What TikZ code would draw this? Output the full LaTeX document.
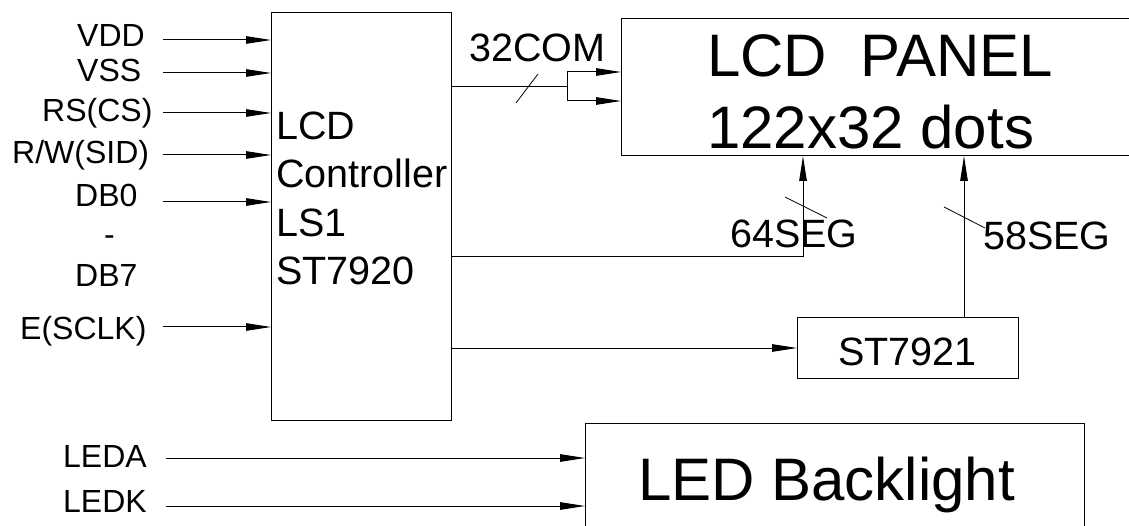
\documentclass[tikz,border=0pt]{standalone}
\usepackage{fontspec}
\setmainfont{Liberation Sans}
\usetikzlibrary{arrows.meta}
\begin{document}
\begin{tikzpicture}[x=1pt,y=-1pt,
  wire/.style={line width=1pt},
  arr/.style={wire,-{Triangle[length=25pt,width=7.5pt]}},
  tick/.style={line width=0.8pt},
  box/.style={draw,line width=1pt,rectangle,inner sep=0pt,outer sep=0pt},
  lbl/.style={inner sep=0pt,anchor=base west,font=\fontsize{32}{38}\selectfont},
  mid/.style={inner sep=0pt,anchor=base west,font=\fontsize{39.5}{47}\selectfont},
  big/.style={inner sep=0pt,anchor=base west,font=\fontsize{60}{72}\selectfont}]
\useasboundingbox (0,0) rectangle (1129,526);

% boxes
\node[box,minimum width=180pt,minimum height=407pt] (ctrl) at (361,216.5) {};
\node[box,minimum width=600pt,minimum height=137pt] (panel) at (921,87.5) {};
\node[box,minimum width=221pt,minimum height=60pt] (st) at (907.5,348) {};
\node[box,minimum width=499pt,minimum height=140pt] (led) at (834.5,493) {};

% box texts
\node[mid] (t1) at (276,140) {LCD};
\node[mid] (t2) at (276,188) {Controller};
\node[mid] (t3) at (276,237) {LS1};
\node[mid] (t4) at (276,285) {ST7920};
\node[big] (p1) at (707,77) {LCD\ \ PANEL};
\node[big] (p2) at (707,149) {122x32 dots};
\node[mid] (st1) at (838,365) {ST7921};
\node[big] (b1) at (638,500) {LED Backlight};

% input labels
\node[lbl] (lvdd) at (77,47) {VDD};
\node[lbl] (lvss) at (77,82) {VSS};
\node[lbl] (lrs) at (42,122) {RS(CS)};
\node[lbl] (lrw) at (12,164) {R/W(SID)};
\node[lbl] (ldb0) at (75,207) {DB0};
\node[lbl] (ldash) at (104,246) {-};
\node[lbl] (ldb7) at (75,287) {DB7};
\node[lbl] (le) at (20,340) {E(SCLK)};
\node[lbl] (lleda) at (63,467) {LEDA};
\node[lbl] (lledk) at (63,512) {LEDK};

% input arrows
\coordinate (ivdd) at (163,40);
\coordinate (ivss) at (163,73);
\coordinate (irs) at (163,113);
\coordinate (irw) at (163,155);
\coordinate (idb) at (163,202);
\coordinate (ie) at (163,327);
\foreach \c in {ivdd,ivss,irs,irw,idb,ie}
  \draw[arr] (\c) -- (ctrl.west |- \c);

\coordinate (ileda) at (166,458);
\coordinate (iledk) at (166,506);
\draw[arr] (ileda) -- (led.west |- ileda);
\draw[arr] (iledk) -- (led.west |- iledk);

% 32COM
\node[mid] (l32) at (469,62) {32COM};
\coordinate (j32) at (567,87);
\coordinate (j32a) at (567,72);
\coordinate (j32b) at (567,101);
\draw[wire] (ctrl.east |- j32) -- (j32);
\draw[wire] (j32a) -- (j32b);
\draw[arr] (j32a) -- (panel.west |- j32a);
\draw[arr] (j32b) -- (panel.west |- j32b);
\coordinate (s1a) at (516,103);
\coordinate (s1b) at (538,74);
\draw[tick] (s1a) -- (s1b);

% 64SEG
\node[mid] (l64) at (730,248) {64SEG};
\coordinate (b64) at (803,257);
\draw[arr] (ctrl.east |- b64) -- (b64) -- (panel.south -| b64);
\coordinate (s2a) at (785,197);
\coordinate (s2b) at (827,218);
\draw[tick] (s2a) -- (s2b);

% 58SEG
\node[mid] (l58) at (983,250) {58SEG};
\coordinate (x58) at (964,240);
\draw[arr] (st.north -| x58) -- (panel.south -| x58);
\coordinate (s3a) at (944,207);
\coordinate (s3b) at (985,228);
\draw[tick] (s3a) -- (s3b);

% ST7921 feed
\draw[arr] (ctrl.east |- st.west) -- (st.west);
\end{tikzpicture}
\end{document}
